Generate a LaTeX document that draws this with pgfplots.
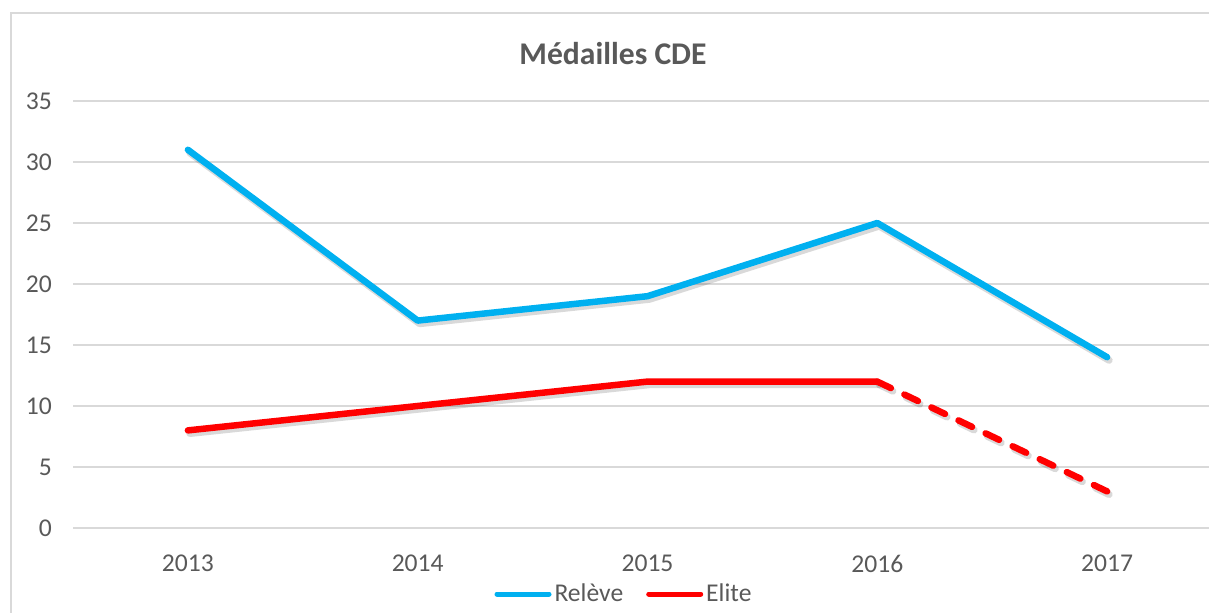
\documentclass[border=0pt]{standalone}
\usepackage{fontspec}
\setmainfont{Carlito}
\usepackage{pgfplots}
\pgfplotsset{compat=1.18}
\definecolor{releve}{HTML}{00B0F0}
\definecolor{elite}{HTML}{FF0000}
\definecolor{gridc}{HTML}{D9D9D9}
\definecolor{txt}{HTML}{595959}

\begin{document}
\begin{tikzpicture}
% page = 1209 x 613 px at 0.5pt per px
\useasboundingbox (0pt,0pt) rectangle (604.5pt,306.5pt);
\clip (0pt,0pt) rectangle (604.5pt,306.5pt);
\draw[gridc, line width=1.2pt] (5.5pt,-20pt) rectangle (640pt,300pt);
\node[text=txt, font=\fontsize{15.8}{18}\selectfont\bfseries] at (306.5pt,279.5pt) {Médailles CDE};
\begin{axis}[
  at={(36.5pt,42.5pt)}, anchor=south west,
  scale only axis, width=574.5pt, height=213.5pt,
  xmin=-0.5, xmax=4.5, ymin=0, ymax=35,
  xtick={0,1,2,3,4}, xticklabels={2013,2014,2015,2016,2017},
  ytick={0,5,...,35},
  axis line style={draw=none}, major tick length=0pt,
  ymajorgrids, grid style={gridc, line width=0.75pt},
  /pgf/number format/assume math mode=true,
  tick label style={text=txt, font=\fontsize{12.8}{15}\selectfont},
  yticklabel style={xshift=-7pt},
  xticklabel style={yshift=-10pt},
  clip=false,
  legend style={at={(0.48,-0.1546)}, anchor=center, draw=none, fill=none,
    legend columns=2, font=\fontsize{12.8}{15}\selectfont, text=txt,
    inner sep=0pt, nodes={inner sep=1.5pt},
    /tikz/every even column/.append style={column sep=10pt}},
  legend image code/.code={\draw[#1, line width=2.5pt, line cap=round] (0pt,0pt) -- (26pt,0pt);},
]
  % soft shadows
  \addplot[black, opacity=0.15, line width=3.6pt, line cap=round, line join=round, xshift=1pt, yshift=-1.5pt, forget plot]
    coordinates {(0,31) (1,17) (2,19) (3,25) (4,14)};
  \addplot[black, opacity=0.15, line width=3.6pt, line cap=round, line join=round, xshift=1pt, yshift=-1.5pt, forget plot]
    coordinates {(0,8) (1,10) (2,12) (3,12)};
  \addplot[black, opacity=0.15, line width=3.6pt, line cap=round, dash pattern=on 7.5pt off 7.5pt, xshift=1pt, yshift=-1.5pt, forget plot]
    coordinates {(3,12) (4,3)};
  % series
  \addplot[releve, line width=3.25pt, line cap=round, line join=round]
    coordinates {(0,31) (1,17) (2,19) (3,25) (4,14)};
  \addlegendentry{Relève}
  \addplot[elite, line width=3.25pt, line cap=round, line join=round]
    coordinates {(0,8) (1,10) (2,12) (3,12)};
  \addlegendentry{Elite}
  \addplot[elite, line width=3.25pt, line cap=round, dash pattern=on 7.5pt off 7.5pt, forget plot]
    coordinates {(3,12) (4,3)};
\end{axis}
\end{tikzpicture}
\end{document}
